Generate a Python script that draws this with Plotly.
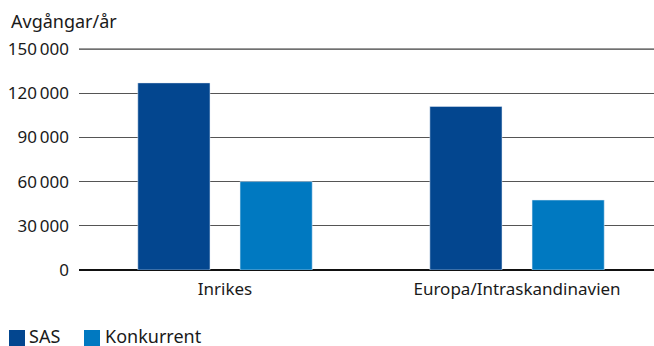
import plotly.graph_objects as go

categories = ["Inrikes", "Europa/Intraskandinavien"]
sas = [127000, 111000]
konkurrent = [60000, 47500]
series_names = ["SAS", "Konkurrent"]
series_colors = ["#03468F", "#0079C1"]
tick_vals = [0, 30000, 60000, 90000, 120000, 150000]
tick_text = ["0", "30\u2009000", "60\u2009000", "90\u2009000", "120\u2009000", "150\u2009000"]

FONT = "Noto Sans"
TXT = "#1a1a1a"
W, H = 654, 346
L, R, T, B = 79, 0, 30, 76
pw = W - L - R
ph = H - T - B
# 150 000 sits at pixel row 49, zero at row 270
y_top = 150000 * ph / (270 - 49)


def px_x(x):
    return (x - L) / pw


def px_y(y):
    return (H - B - y) / ph


fig = go.Figure()
for name, vals, col in zip(series_names, [sas, konkurrent], series_colors):
    fig.add_trace(go.Bar(name=name, x=categories, y=vals, marker_color=col,
                         showlegend=False))

shapes = []
# top grid line drawn a bit lighter, as in the reference
shapes.append(dict(type="line", xref="paper", yref="y", x0=0, x1=1,
                   y0=tick_vals[-1], y1=tick_vals[-1],
                   line=dict(color="#7a7a7a", width=1.3), layer="above"))

# custom legend (squares + labels)
legend_items = [(9, 28), (84, 104)]
annotations = []
for (sx, tx), name, col in zip(legend_items, series_names, series_colors):
    shapes.append(dict(type="rect", xref="paper", yref="paper",
                       x0=px_x(sx), x1=px_x(sx + 16), y0=px_y(330), y1=px_y(346),
                       fillcolor=col, line=dict(width=0), layer="above"))
    annotations.append(dict(text=name, xref="paper", yref="paper",
                            x=px_x(tx - 1), y=px_y(336), xanchor="left",
                            yanchor="middle", showarrow=False,
                            font=dict(size=18, color=TXT)))

annotations.append(dict(text="Avgångar/år", xref="paper", yref="paper",
                        x=px_x(9), y=px_y(49), xanchor="left", yanchor="bottom",
                        yshift=14, showarrow=False,
                        font=dict(size=18, color=TXT)))

fig.update_layout(
    width=W, height=H,
    margin=dict(l=L, r=R, t=T, b=B, pad=0, autoexpand=False),
    paper_bgcolor="white", plot_bgcolor="white",
    barmode="group", bargap=0.30, bargroupgap=0.294,
    font=dict(family=FONT, size=17, color=TXT),
    showlegend=False,
    xaxis=dict(type="category", range=[-0.5, 1.469], showgrid=False,
               showline=False, ticks="", tickfont=dict(size=17),
               ticklabelstandoff=7, fixedrange=True),
    yaxis=dict(range=[0, y_top], tickvals=tick_vals, ticktext=tick_text,
               showgrid=True, gridcolor="#555555", gridwidth=1.3,
               zeroline=True, zerolinecolor="#111111", zerolinewidth=1.6,
               showline=False, ticks="", ticklabelstandoff=9,
               tickfont=dict(size=17), fixedrange=True),
    shapes=shapes,
    annotations=annotations,
)

fig.write_html("out.html")
